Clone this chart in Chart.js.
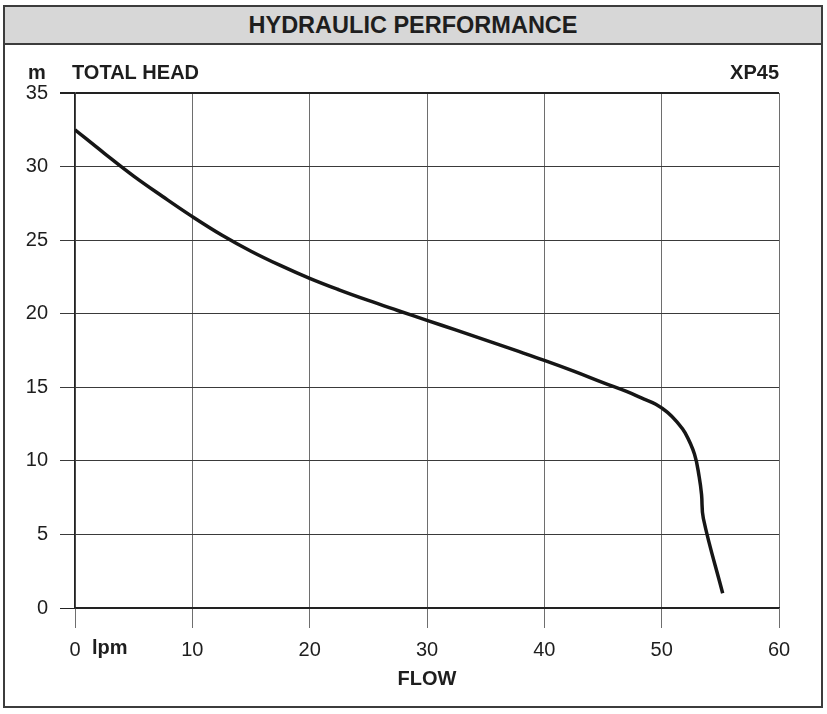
<!DOCTYPE html>
<html>
<head>
<meta charset="utf-8">
<title>Hydraulic performance XP45</title>
<script src="https://cdn.jsdelivr.net/npm/chart.js@4.4.1/dist/chart.umd.min.js"></script>
<style>
  body { margin: 0; background: #fff; }
  #frame {
    position: absolute; left: 3px; top: 5px; width: 820px; height: 703px;
    box-sizing: border-box; border: 2px solid #3c3c3c;
  }
  #head {
    height: 38px; box-sizing: border-box; border-bottom: 2px solid #3c3c3c;
    background: #d7d7d7; color: #1e1e1e; text-align: center;
    padding-top: 5px; line-height: 28px;
    font: bold 23.5px "Liberation Sans", Arial, sans-serif;
  }
  #chart { position: absolute; left: 0; top: 0; }
</style>
</head>
<body>
<div id="frame"><div id="head">HYDRAULIC PERFORMANCE</div></div>
<canvas id="chart" width="827" height="714"></canvas>
<script>
// flow (lpm) and total head (m)
const flow = [0, 2.5, 5, 7.5, 10, 12.5, 15, 17.5, 20, 22.5, 25, 27.5, 30, 32.5, 35, 37.5, 40,
              42.5, 45, 47, 48.5, 49.5, 50.5, 51.3, 52, 52.8, 53.2, 53.4, 53.55, 55.2];
const head = [32.5, 30.9, 29.35, 27.95, 26.6, 25.35, 24.25, 23.28, 22.4, 21.62, 20.9, 20.22, 19.55, 18.88, 18.2, 17.52, 16.83,
              16.1, 15.32, 14.72, 14.2, 13.85, 13.3, 12.65, 11.9, 10.45, 8.9, 7.7, 6.1, 1.0];
const xTicks = [0, 10, 20, 30, 40, 50, 60];
const yTicks = [0, 5, 10, 15, 20, 25, 30, 35];

const FONT = '"Liberation Sans", Arial, sans-serif';
const INK = '#1e1e1e';

// extra labels around the plot: units, titles, model name
const labelsPlugin = {
  id: 'extraLabels',
  afterDraw(chart) {
    const ctx = chart.ctx;
    const area = chart.chartArea;
    ctx.save();
    ctx.fillStyle = INK;
    ctx.font = 'bold 20px ' + FONT;
    ctx.textBaseline = 'middle';
    ctx.textAlign = 'center';
    ctx.fillText('m', 37, 73);
    ctx.textAlign = 'left';
    ctx.fillText('TOTAL HEAD', 72, 73);
    ctx.textAlign = 'right';
    ctx.fillText('XP45', area.right, 73);
    ctx.textAlign = 'left';
    ctx.fillText('lpm', area.left + 17, 648);
    ctx.restore();
  }
};

new Chart(document.getElementById('chart'), {
  type: 'line',
  data: {
    datasets: [{
      data: flow.map((x, i) => ({ x: x, y: head[i] })),
      borderColor: '#161616',
      borderWidth: 3.5,
      pointRadius: 0,
      fill: false,
      tension: 0.4
    }]
  },
  options: {
    responsive: false,
    animation: false,
    layout: { padding: { left: 0, right: 48, top: 93, bottom: 23 } },
    plugins: { legend: { display: false }, tooltip: { enabled: false } },
    scales: {
      x: {
        type: 'linear', min: 0, max: 60,
        afterBuildTicks: s => { s.ticks = xTicks.map(v => ({ value: v })); },
        afterFit: s => { s.height = 83; },
        grid: { color: '#6e6e6e', lineWidth: 1, tickLength: 20 },
        border: { display: true, color: '#222', width: 1.5 },
        ticks: { font: { size: 20, family: FONT }, color: INK, padding: 10, maxRotation: 0 },
        title: { display: true, text: 'FLOW', color: INK, font: { size: 20, weight: 'bold', family: FONT }, padding: 0 }
      },
      y: {
        type: 'linear', min: 0, max: 35,
        afterBuildTicks: s => { s.ticks = yTicks.map(v => ({ value: v })); },
        afterFit: s => { s.width = 75; },
        grid: {
          color: c => (c.tick && (c.tick.value === 35 || c.tick.value === 0)) ? '#222' : '#3a3a3a',
          lineWidth: c => (c.tick && c.tick.value === 35) ? 2 : 1,
          tickLength: 15
        },
        border: { display: true, color: '#222', width: 1.5 },
        ticks: { font: { size: 20, family: FONT }, color: INK, padding: 12 }
      }
    }
  },
  plugins: [labelsPlugin]
});
</script>
</body>
</html>
